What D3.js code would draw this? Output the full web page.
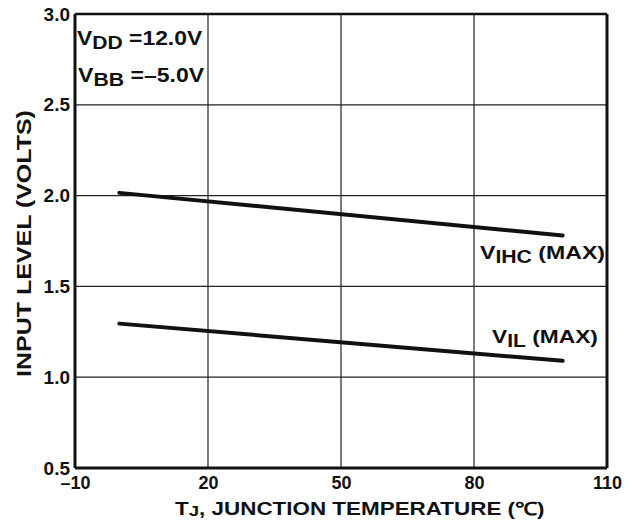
<!DOCTYPE html>
<html><head><meta charset="utf-8">
<script src="https://cdn.jsdelivr.net/npm/d3@7"></script>
<style>
body{margin:0;background:#fff;}
text{font-family:"Liberation Sans",Arial,Helvetica,sans-serif;fill:#111;}
</style></head>
<body><svg id="c" width="636" height="523"></svg>
<script>
// Data
const xTicks = [-10, 20, 50, 80, 110];
const yTicks = [0.5, 1.0, 1.5, 2.0, 2.5, 3.0];
const temps = [0, 100];
const vihcMax = [2.015, 1.78];
const vilMax = [1.295, 1.09];

const svg = d3.select("#c");
const m = {l:75, r:607, t:14, b:468};
const x = d3.scaleLinear().domain([-10,110]).range([m.l,m.r]);
const y = d3.scaleLinear().domain([0.5,3.0]).range([m.b,m.t]);

// stretch a text horizontally to target width, anchored at its left edge
function fitWidth(sel, targetW){
  const n = sel.node(); const bb = n.getBBox();
  const s = targetW / bb.width;
  const x0 = bb.x;
  sel.attr("transform", `translate(${x0},0) scale(${s},1) translate(${-x0},0)`);
}

// grid
svg.append("g").selectAll("line").data([20,50,80]).join("line")
  .attr("x1",d=>x(d)).attr("x2",d=>x(d)).attr("y1",m.t).attr("y2",m.b)
  .attr("stroke","#222").attr("stroke-width",1.2);
svg.append("g").selectAll("line").data([1.0,1.5,2.0,2.5]).join("line")
  .attr("x1",m.l).attr("x2",m.r).attr("y1",d=>y(d)).attr("y2",d=>y(d))
  .attr("stroke","#222").attr("stroke-width",1.2);

// frame
svg.append("line").attr("x1",m.l).attr("x2",m.r).attr("y1",m.t).attr("y2",m.t).attr("stroke","#111").attr("stroke-width",2.5);
svg.append("line").attr("x1",m.l).attr("x2",m.r).attr("y1",m.b).attr("y2",m.b).attr("stroke","#111").attr("stroke-width",3);
svg.append("line").attr("x1",m.l).attr("x2",m.l).attr("y1",m.t).attr("y2",m.b).attr("stroke","#111").attr("stroke-width",3);
svg.append("line").attr("x1",m.r).attr("x2",m.r).attr("y1",m.t).attr("y2",m.b).attr("stroke","#111").attr("stroke-width",3);

// axes labels
const yAxis = d3.axisLeft(y).tickValues(yTicks).tickFormat(d3.format(".1f")).tickSize(0).tickPadding(5);
const gy = svg.append("g").attr("transform",`translate(${m.l},0)`).call(yAxis);
gy.select(".domain").remove();
gy.selectAll("text").attr("font-size",19).attr("font-weight","bold").attr("fill","#111").style("font-family","Liberation Sans, Arial, sans-serif");

const xAxis = d3.axisBottom(x).tickValues(xTicks).tickFormat(d=>d<0?"\u2013"+Math.abs(d):d).tickSize(0).tickPadding(8);
const gx = svg.append("g").attr("transform",`translate(0,${m.b})`).call(xAxis);
gx.select(".domain").remove();
gx.selectAll("text").attr("font-size",18).attr("font-weight","bold").attr("fill","#111").style("font-family","Liberation Sans, Arial, sans-serif");

// titles
const xt = svg.append("text").attr("x",175).attr("y",515).attr("font-size",18).attr("font-weight","bold");
xt.append("tspan").text("T");
xt.append("tspan").attr("font-size",15).attr("dy",1).text("J");
xt.append("tspan").attr("dy",-1).text(", JUNCTION TEMPERATURE (\u2103)");
fitWidth(xt, 370);

const yt = svg.append("text").attr("x",-377).attr("y",31).attr("transform","rotate(-90)")
  .attr("font-size",20).attr("font-weight","bold").text("INPUT LEVEL (VOLTS)");
{
  const bb = yt.node().getBBox(); const s = 267/bb.width; const x0 = bb.x;
  yt.attr("transform", `rotate(-90) translate(${x0},0) scale(${s},1) translate(${-x0},0)`);
}

// lines
const line = d3.line().x((d,i)=>x(temps[i])).y(d=>y(d));
[vihcMax, vilMax].forEach(s=>{
  svg.append("path").attr("d",line(s)).attr("fill","none").attr("stroke","#111").attr("stroke-width",4).attr("stroke-linecap","round");
});

// annotations
function sub(main, subs, rest, xx, yy, fs, w){
  const e = svg.append("text").attr("x",xx).attr("y",yy).attr("font-size",fs).attr("font-weight","bold");
  e.append("tspan").text(main);
  e.append("tspan").attr("dy",4).attr("font-size",fs*0.92).text(subs);
  e.append("tspan").attr("dy",-4).text(rest);
  fitWidth(e, w);
  return e;
}
sub("V","DD"," =12.0V",77,45,20,126);
sub("V","BB"," =\u20135.0V",78,82,20,127);
sub("V","IHC"," (MAX)",480,259,19,125);
sub("V","IL"," (MAX)",492,343,19,106);
</script></body></html>
